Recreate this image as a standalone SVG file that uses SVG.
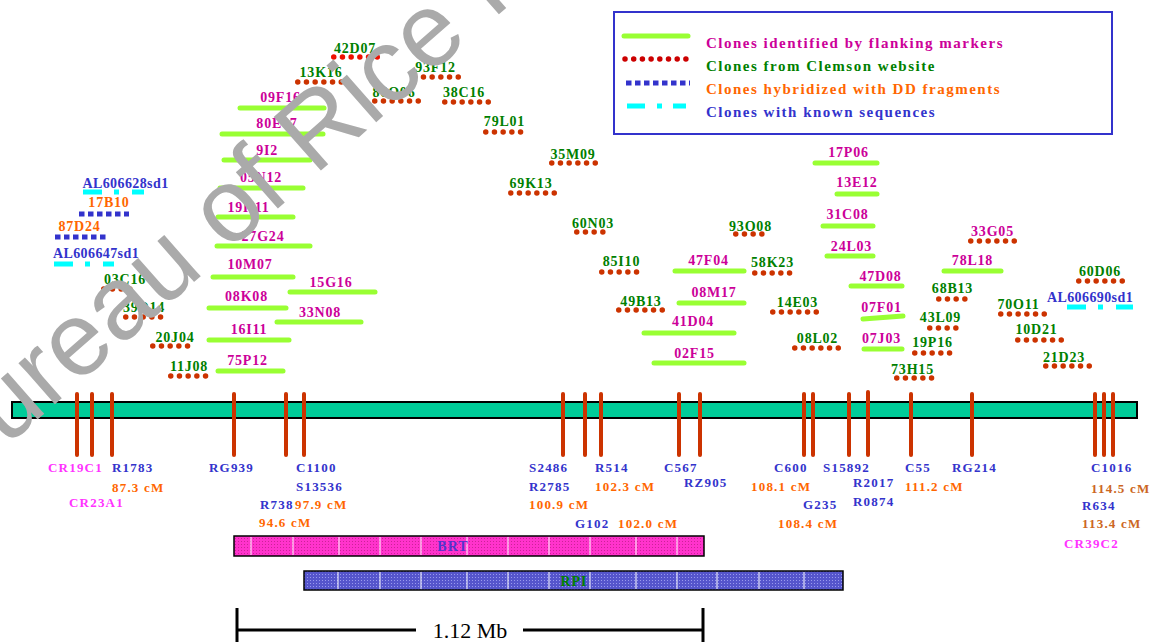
<svg xmlns="http://www.w3.org/2000/svg" width="1152" height="642" viewBox="0 0 1152 642">
<style>
.l{font-family:"Liberation Serif",serif;font-weight:bold;font-size:14px;letter-spacing:0.8px;text-anchor:middle}
.al{letter-spacing:0.4px}
.mk{font-family:"Liberation Serif",serif;font-weight:bold;font-size:13px;letter-spacing:1.2px}
.lg{font-family:"Liberation Serif",serif;font-weight:bold;font-size:15px;letter-spacing:1.5px}
.m{fill:#cc0099}.g{fill:#008000}.o{fill:#ff6600}.b{fill:#3333cc}.p{fill:#ff33ff}.o2{fill:#cc6622}
.gl{stroke:#99ff33;stroke-width:5;stroke-linecap:round;fill:none}
.rd{stroke:#cc3300;stroke-width:5.5;stroke-linecap:round;stroke-dasharray:0.01 8.69;fill:none}
.bs{stroke:#3333cc;stroke-width:5;stroke-dasharray:5.5 3.5;fill:none}
.cy{stroke:#00ffff;stroke-width:5;stroke-dasharray:19 12 5 13;fill:none}
.tk{stroke:#cc3300;stroke-width:4;stroke-linecap:round}
.wl{stroke:#ffffff;stroke-width:1}
</style>
<defs>
<pattern id="pm" width="3" height="3" patternUnits="userSpaceOnUse"><rect width="3" height="3" fill="#ff33cc"/><rect x="1" y="1" width="1" height="1" fill="#cc2299"/></pattern>
<pattern id="pb" width="3" height="3" patternUnits="userSpaceOnUse"><rect width="3" height="3" fill="#5555cc"/><rect x="1" y="1" width="1" height="1" fill="#9999ee"/></pattern>
</defs>
<rect width="1152" height="642" fill="#ffffff"/>

<g id="legend">
<rect x="614" y="12" width="498" height="122" fill="#ffffff" stroke="#3333cc" stroke-width="2"/>
<line class="gl" x1="624" y1="36" x2="688" y2="36"/>
<line class="rd" x1="625" y1="59" x2="687" y2="59" style="stroke:#cc0000"/>
<line class="bs" x1="626" y1="83" x2="690" y2="83"/>
<line class="cy" x1="627" y1="106" x2="686" y2="106" style="stroke-dasharray:18 12 5 11"/>
<text class="lg m" x="706" y="48">Clones identified by flanking markers</text>
<text class="lg g" x="706" y="71">Clones from Clemson website</text>
<text class="lg o" x="706" y="94">Clones hybridized with DD fragments</text>
<text class="lg b" x="706" y="117">Clones with known sequences</text>
</g>

<g id="chromosome">
<rect x="12" y="402" width="1125" height="16" fill="#00cc99" stroke="#000000" stroke-width="2"/>
</g>

<g id="markers">
<line class="tk" x1="77" y1="394" x2="77" y2="455"/>
<line class="tk" x1="92" y1="394" x2="92" y2="455"/>
<line class="tk" x1="112" y1="394" x2="112" y2="455"/>
<line class="tk" x1="234" y1="394" x2="234" y2="455"/>
<line class="tk" x1="286" y1="394" x2="286" y2="455"/>
<line class="tk" x1="304" y1="394" x2="304" y2="455"/>
<line class="tk" x1="563" y1="394" x2="563" y2="455"/>
<line class="tk" x1="585" y1="394" x2="585" y2="455"/>
<line class="tk" x1="601" y1="394" x2="601" y2="455"/>
<line class="tk" x1="679" y1="394" x2="679" y2="455"/>
<line class="tk" x1="700" y1="394" x2="700" y2="455"/>
<line class="tk" x1="804" y1="394" x2="804" y2="455"/>
<line class="tk" x1="813" y1="394" x2="813" y2="455"/>
<line class="tk" x1="849" y1="394" x2="849" y2="455"/>
<line class="tk" x1="868" y1="392" x2="868" y2="455"/>
<line class="tk" x1="911" y1="394" x2="911" y2="455"/>
<line class="tk" x1="972" y1="394" x2="972" y2="455"/>
<line class="tk" x1="1095" y1="394" x2="1095" y2="455"/>
<line class="tk" x1="1104" y1="394" x2="1104" y2="455"/>
<line class="tk" x1="1113" y1="394" x2="1113" y2="455"/>
</g>

<g id="marker-labels">
<text class="mk p" x="48" y="472">CR19C1</text>
<text class="mk b" x="112" y="472">R1783</text>
<text class="mk o" x="112" y="492">87.3 cM</text>
<text class="mk p" x="69" y="507">CR23A1</text>
<text class="mk b" x="209" y="472">RG939</text>
<text class="mk b" x="296" y="472">C1100</text>
<text class="mk b" x="296" y="491">S13536</text>
<text class="mk b" x="260" y="509">R738</text>
<text class="mk o" x="295" y="509">97.9 cM</text>
<text class="mk o" x="259" y="527">94.6 cM</text>
<text class="mk b" x="529" y="472">S2486</text>
<text class="mk b" x="529" y="491">R2785</text>
<text class="mk o" x="529" y="509">100.9 cM</text>
<text class="mk b" x="595" y="472">R514</text>
<text class="mk o" x="595" y="491">102.3 cM</text>
<text class="mk b" x="575" y="528">G102</text>
<text class="mk o" x="618" y="528">102.0 cM</text>
<text class="mk b" x="664" y="472">C567</text>
<text class="mk b" x="684" y="487">RZ905</text>
<text class="mk b" x="774" y="472">C600</text>
<text class="mk o" x="751" y="491">108.1 cM</text>
<text class="mk b" x="803" y="509">G235</text>
<text class="mk o" x="778" y="528">108.4 cM</text>
<text class="mk b" x="823" y="472">S15892</text>
<text class="mk b" x="853" y="487">R2017</text>
<text class="mk b" x="853" y="506">R0874</text>
<text class="mk b" x="905" y="472">C55</text>
<text class="mk o" x="905" y="491">111.2 cM</text>
<text class="mk b" x="952" y="472">RG214</text>
<text class="mk b" x="1091" y="472">C1016</text>
<text class="mk o2" x="1091" y="493">114.5 cM</text>
<text class="mk b" x="1082" y="510">R634</text>
<text class="mk o2" x="1082" y="528">113.4 cM</text>
<text class="mk p" x="1064" y="548">CR39C2</text>
</g>

<g id="clones-flanking">
<g id="c09F16"><line class="gl" x1="240" y1="108" x2="324" y2="108"/><text class="l m" x="280.5" y="102">09F16</text></g>
<g id="c80E07"><line class="gl" x1="222" y1="134" x2="323" y2="134"/><text class="l m" x="277" y="128">80E07</text></g>
<g id="c9I2"><line class="gl" x1="224" y1="160" x2="310" y2="160"/><text class="l m" x="278" y="155" style="text-anchor:end">9I2</text></g>
<g id="c05N12"><line class="gl" x1="220" y1="188" x2="303" y2="188"/><text class="l m" x="261" y="182">05N12</text></g>
<g id="c19H11"><line class="gl" x1="218" y1="217" x2="293" y2="217"/><text class="l m" x="248.5" y="212">19H11</text></g>
<g id="c27G24"><line class="gl" x1="217" y1="246" x2="310" y2="246"/><text class="l m" x="263" y="241">27G24</text></g>
<g id="c10M07"><line class="gl" x1="213" y1="277" x2="293" y2="277"/><text class="l m" x="250" y="269">10M07</text></g>
<g id="c15G16"><line class="gl" x1="290" y1="292" x2="375" y2="292"/><text class="l m" x="331" y="287">15G16</text></g>
<g id="c08K08"><line class="gl" x1="209" y1="308" x2="286" y2="308"/><text class="l m" x="246.5" y="301">08K08</text></g>
<g id="c33N08"><line class="gl" x1="277" y1="322" x2="361" y2="322"/><text class="l m" x="320" y="317">33N08</text></g>
<g id="c16I11"><line class="gl" x1="209" y1="340" x2="289" y2="340"/><text class="l m" x="249" y="334">16I11</text></g>
<g id="c75P12"><line class="gl" x1="218" y1="371" x2="283" y2="371"/><text class="l m" x="247.5" y="365">75P12</text></g>
<g id="c47F04"><line class="gl" x1="675" y1="271" x2="744" y2="271"/><text class="l m" x="708.5" y="265">47F04</text></g>
<g id="c08M17"><line class="gl" x1="679" y1="303" x2="744" y2="303"/><text class="l m" x="714" y="297">08M17</text></g>
<g id="c41D04"><line class="gl" x1="644" y1="333" x2="734" y2="333"/><text class="l m" x="693" y="326">41D04</text></g>
<g id="c02F15"><line class="gl" x1="654" y1="363" x2="744" y2="363"/><text class="l m" x="694.5" y="358">02F15</text></g>
<g id="c17P06"><line class="gl" x1="815" y1="163" x2="877" y2="163"/><text class="l m" x="848.5" y="157">17P06</text></g>
<g id="c13E12"><line class="gl" x1="837" y1="194" x2="877" y2="194"/><text class="l m" x="857" y="187">13E12</text></g>
<g id="c31C08"><line class="gl" x1="823" y1="226" x2="873" y2="226"/><text class="l m" x="847.5" y="219">31C08</text></g>
<g id="c24L03"><line class="gl" x1="827" y1="256" x2="873" y2="256"/><text class="l m" x="851.5" y="251">24L03</text></g>
<g id="c47D08"><line class="gl" x1="851" y1="286" x2="902" y2="286"/><text class="l m" x="880.5" y="281">47D08</text></g>
<g id="c07F01"><line class="gl" x1="863" y1="319" x2="903" y2="316"/><text class="l m" x="881.5" y="312">07F01</text></g>
<g id="c07J03"><line class="gl" x1="864" y1="349" x2="902" y2="349"/><text class="l m" x="881.5" y="343">07J03</text></g>
<g id="c78L18"><line class="gl" x1="944" y1="271" x2="1001" y2="271"/><text class="l m" x="972.5" y="265">78L18</text></g>
</g>

<g id="clones-clemson">
<g id="c33G05"><line class="rd" x1="970.75" y1="241" x2="1014.3" y2="241"/><text class="l m" x="992.5" y="236">33G05</text></g>
<g id="c42D07"><line class="rd" x1="333.75" y1="57" x2="377.3" y2="57" style="stroke:#ee1100"/><text class="l g" x="355" y="53">42D07</text></g>
<g id="c13K16"><line class="rd" x1="297.75" y1="82" x2="341.3" y2="82"/><text class="l g" x="321" y="77">13K16</text></g>
<g id="c93F12"><line class="rd" x1="414.75" y1="77" x2="458.3" y2="77"/><text class="l g" x="435.5" y="72">93F12</text></g>
<g id="c86O06"><line class="rd" x1="374.75" y1="101" x2="418.3" y2="101"/><text class="l g" x="394" y="97">86O06</text></g>
<g id="c38C16"><line class="rd" x1="444.75" y1="102" x2="488.3" y2="102"/><text class="l g" x="464" y="97">38C16</text></g>
<g id="c79L01"><line class="rd" x1="485.75" y1="132" x2="520.6" y2="132"/><text class="l g" x="504.5" y="126">79L01</text></g>
<g id="c35M09"><line class="rd" x1="551.75" y1="163" x2="595.3" y2="163"/><text class="l g" x="573" y="159">35M09</text></g>
<g id="c69K13"><line class="rd" x1="510.75" y1="193" x2="554.3" y2="193"/><text class="l g" x="531" y="188">69K13</text></g>
<g id="c60N03"><line class="rd" x1="576.75" y1="232" x2="602.9" y2="232"/><text class="l g" x="593" y="228">60N03</text></g>
<g id="c93O08"><line class="rd" x1="735.75" y1="234" x2="761.9" y2="234"/><text class="l g" x="750.5" y="231">93O08</text></g>
<g id="c85I10"><line class="rd" x1="601.75" y1="272" x2="636.6" y2="272"/><text class="l g" x="621.5" y="266">85I10</text></g>
<g id="c58K23"><line class="rd" x1="754.75" y1="273" x2="789.6" y2="273"/><text class="l g" x="772.5" y="267">58K23</text></g>
<g id="c49B13"><line class="rd" x1="618.75" y1="310" x2="662.3" y2="310"/><text class="l g" x="641" y="306">49B13</text></g>
<g id="c14E03"><line class="rd" x1="772.75" y1="312" x2="816.3" y2="312"/><text class="l g" x="797.5" y="307">14E03</text></g>
<g id="c08L02"><line class="rd" x1="794.75" y1="348" x2="838.3" y2="348"/><text class="l g" x="817.5" y="343">08L02</text></g>
<g id="c68B13"><line class="rd" x1="938.75" y1="299" x2="964.9" y2="299"/><text class="l g" x="952.5" y="293">68B13</text></g>
<g id="c43L09"><line class="rd" x1="929.75" y1="328" x2="955.9" y2="328"/><text class="l g" x="940.5" y="322">43L09</text></g>
<g id="c19P16"><line class="rd" x1="914.75" y1="353" x2="949.6" y2="353"/><text class="l g" x="932.5" y="347">19P16</text></g>
<g id="c73H15"><line class="rd" x1="896.75" y1="378" x2="931.6" y2="378"/><text class="l g" x="912.5" y="374">73H15</text></g>
<g id="c60D06"><line class="rd" x1="1078.75" y1="281" x2="1122.3" y2="281"/><text class="l g" x="1100" y="276">60D06</text></g>
<g id="c70O11"><line class="rd" x1="1000.75" y1="314" x2="1044.3" y2="314"/><text class="l g" x="1018.5" y="309">70O11</text></g>
<g id="c10D21"><line class="rd" x1="1017.75" y1="340" x2="1061.3" y2="340"/><text class="l g" x="1036.5" y="334">10D21</text></g>
<g id="c21D23"><line class="rd" x1="1045.75" y1="366" x2="1089.3" y2="366"/><text class="l g" x="1064" y="362">21D23</text></g>
<g id="c03C16"><line class="rd" x1="103.75" y1="289" x2="129.9" y2="289"/><text class="l g" x="125" y="284">03C16</text></g>
<g id="c39D14"><line class="rd" x1="125.75" y1="317" x2="160.6" y2="317"/><text class="l g" x="144" y="312">39D14</text></g>
<g id="c20J04"><line class="rd" x1="152.75" y1="346" x2="187.6" y2="346"/><text class="l g" x="175" y="342">20J04</text></g>
<g id="c11J08"><line class="rd" x1="170.75" y1="376" x2="205.6" y2="376"/><text class="l g" x="189" y="371">11J08</text></g>
</g>

<g id="clones-dd">
<g id="c17B10"><line class="bs" x1="79" y1="214" x2="129" y2="214"/><text class="l o" x="109" y="207">17B10</text></g>
<g id="c87D24"><line class="bs" x1="55" y1="237" x2="106" y2="237"/><text class="l o" x="79.5" y="231">87D24</text></g>
</g>

<g id="clones-seq">
<g id="cAL606628sd1"><line class="cy" x1="83" y1="192" x2="144" y2="192"/><text class="l al b" x="125.5" y="188">AL606628sd1</text></g>
<g id="cAL606647sd1"><line class="cy" x1="54" y1="264" x2="114" y2="264"/><text class="l al b" x="96" y="258">AL606647sd1</text></g>
<g id="cAL606690sd1"><line class="cy" x1="1067" y1="307" x2="1133" y2="307"/><text class="l al b" x="1090" y="302">AL606690sd1</text></g>
</g>

<g id="BRT">
<rect x="234" y="536" width="470" height="20" fill="url(#pm)" stroke="#000000" stroke-width="1.5"/>
<path class="wl" d="M251 537V555M293 537V555M339 537V555M380 537V555M421 537V555M467 537V555M508 537V555M549 537V555M590 537V555M636 537V555M677 537V555"/>
<text x="453" y="551" style="font-family:'Liberation Serif',serif;font-weight:bold;font-size:14px;letter-spacing:1px;fill:#5533cc;text-anchor:middle">BRT</text>
</g>

<g id="RPI">
<rect x="304" y="571" width="539" height="19" fill="url(#pb)" stroke="#000000" stroke-width="1.5"/>
<path class="wl" d="M338 572V589M380 572V589M421 572V589M467 572V589M508 572V589M549 572V589M590 572V589M636 572V589M677 572V589M717 572V589M759 572V589M804 572V589"/>
<text x="574" y="586" style="font-family:'Liberation Serif',serif;font-weight:bold;font-size:14px;letter-spacing:1px;fill:#008000;text-anchor:middle">RPI</text>
</g>

<g id="scale">
<line x1="237" y1="608" x2="237" y2="642" stroke="#000" stroke-width="3"/>
<line x1="703" y1="608" x2="703" y2="642" stroke="#000" stroke-width="3"/>
<line x1="237" y1="630" x2="416" y2="630" stroke="#000" stroke-width="3"/>
<line x1="523" y1="630" x2="703" y2="630" stroke="#000" stroke-width="3"/>
<text x="470" y="638" style="font-family:'Liberation Serif',serif;font-size:22px;fill:#000;text-anchor:middle">1.12 Mb</text>
</g>

<g id="watermark">
<text x="-46" y="493" transform="rotate(-41.3 -46 493)" style="font-family:'Liberation Sans',sans-serif;font-size:104px;fill:#aaaaaa">Bureau of Rice Research</text>
</g>
</svg>
